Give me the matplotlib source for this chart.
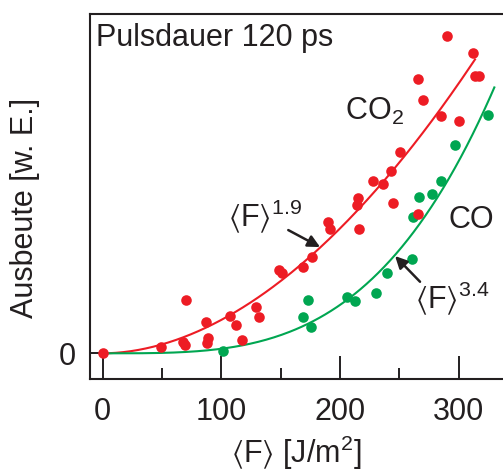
import numpy as np
import matplotlib
matplotlib.use("Agg")
import matplotlib.pyplot as plt
from matplotlib.ticker import MultipleLocator

plt.rcParams['font.family'] = ['Liberation Sans', 'DejaVu Sans']
plt.rcParams['mathtext.fontset'] = 'custom'
plt.rcParams['mathtext.rm'] = 'Liberation Sans'
plt.rcParams['mathtext.default'] = 'regular'

ink = '#231F20'
red = '#ED1C24'
green = '#00A651'

# Messpunkte (Ausbeute in willkuerlichen Einheiten)
co2_F = [0, 49.4, 67.9, 69.3, 70.2, 87.0, 89.0, 88.1, 107.2, 111.9, 117.1, 128.7,
         131.9, 148.8, 150.8, 169.0, 175.9, 190.1, 191.5, 215.7, 215.3, 214.5,
         228.0, 235.9, 242.9, 244.8, 250.7, 265.2, 265.6, 269.8, 285.3, 299.8,
         289.8, 311.7, 313.6, 317.0]
co2_Y = [0, 0.066, 0.118, 0.083, 0.533, 0.313, 0.150, 0.106, 0.378, 0.280, 0.133, 0.466,
         0.363, 0.838, 0.800, 0.860, 0.966, 1.313, 1.243, 1.241, 1.550, 1.483,
         1.728, 1.693, 1.826, 1.503, 2.018, 1.393, 2.743, 2.536, 2.375, 2.328,
         3.178, 3.003, 2.776, 2.773]

co_F = [101.6, 172.7, 168.7, 175.5, 205.6, 212.6, 230.2, 239.1, 260.3, 261.4,
        266.5, 277.2, 285.3, 296.4, 324.9]
co_Y = [0.026, 0.538, 0.366, 0.268, 0.566, 0.528, 0.600, 0.800, 0.941, 1.365,
        1.568, 1.598, 1.723, 2.083, 2.383]

# Fits  Y = A * F^n
co2_exp, co2_end = 1.9, (313.6, 2.94)
co_exp, co_end = 3.4, (329.9, 2.66)

fig = plt.figure(figsize=(5.03, 4.72), dpi=100)
ax = fig.add_axes([0.179, 0.197, 0.821, 0.773])

F = np.linspace(0, co2_end[0], 200)
ax.plot(F, co2_end[1] * (F / co2_end[0]) ** co2_exp, color=red, lw=1.5, zorder=2)
F = np.linspace(0, co_end[0], 200)
ax.plot(F, co_end[1] * (F / co_end[0]) ** co_exp, color=green, lw=1.5, zorder=2)

ax.scatter(co_F, co_Y, s=58, color=green, lw=0, zorder=3)
ax.scatter(co2_F, co2_Y, s=58, color=red, lw=0, zorder=4)

ax.set_xlim(-10.7, 337.2)
ax.set_ylim(-0.257, 3.393)

ax.xaxis.set_major_locator(MultipleLocator(100))
ax.xaxis.set_minor_locator(MultipleLocator(50))
ax.set_yticks([0])
ax.tick_params(axis='x', which='major', direction='in', length=16.5, width=1.4,
               color=ink, labelcolor=ink, labelsize=22, pad=13)
ax.tick_params(axis='x', which='minor', direction='in', length=8, width=1.4, color=ink)
ax.tick_params(axis='y', which='major', direction='in', length=7, width=1.4,
               color=ink, labelcolor=ink, labelsize=22, pad=10)

for side in ['left', 'bottom', 'top']:
    ax.spines[side].set_linewidth(1.5)
    ax.spines[side].set_color(ink)
ax.spines['right'].set_visible(False)

ax.set_xlabel(r'$\langle$F$\rangle$ [J/m$^2$]', fontsize=22, color=ink)
ax.xaxis.set_label_coords(0.5, -0.15)
ax.set_ylabel('Ausbeute [w. E.]', fontsize=22, color=ink)
ax.yaxis.set_label_coords(-0.12, 0.468)

ax.text(0.0145, 0.934, 'Pulsdauer 120 ps', transform=ax.transAxes,
        fontsize=22, color=ink, va='center', ha='left')
ax.text(204.1, 2.338, 'CO$_2$', fontsize=22, color=ink, va='baseline')
ax.text(291.2, 1.253, 'CO', fontsize=22, color=ink, va='baseline')
ax.text(105.8, 1.268, r'$\langle$F$\rangle^{1.9}$', fontsize=22, color=ink, va='baseline')
ax.text(263.1, 0.453, r'$\langle$F$\rangle^{3.4}$', fontsize=22, color=ink, va='baseline')

arrow = dict(arrowstyle='-|>', color=ink, lw=1.8, mutation_scale=18, shrinkA=0, shrinkB=0)
ax.annotate('', xy=(183.1, 1.063), xytext=(156.3, 1.233), arrowprops=arrow)
ax.annotate('', xy=(246.3, 0.973), xytext=(267.3, 0.716), arrowprops=arrow)

fig.savefig('out.png', dpi=100)
